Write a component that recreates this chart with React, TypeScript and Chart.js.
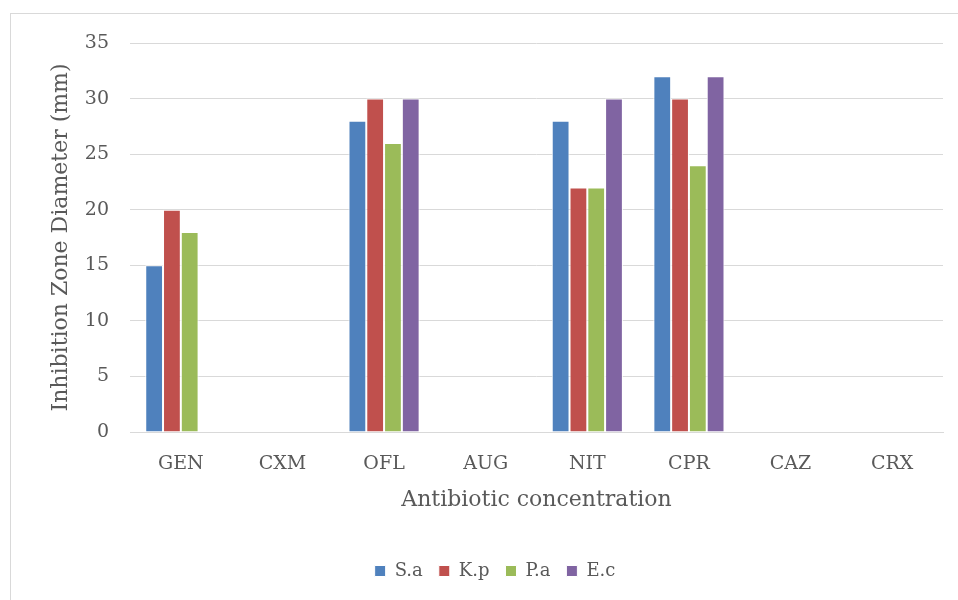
import React, { useEffect, useRef } from "react";
import { Chart, registerables } from "chart.js";

Chart.register(...registerables);

const categories = ["GEN", "CXM", "OFL", "AUG", "NIT", "CPR", "CAZ", "CRX"];
const seriesNames = ["S.a", "K.p", "P.a", "E.c"];
const saValues = [15, 0, 28, 0, 28, 32, 0, 0];
const kpValues = [20, 0, 30, 0, 22, 30, 0, 0];
const paValues = [18, 0, 26, 0, 22, 24, 0, 0];
const ecValues = [0, 0, 30, 0, 30, 32, 0, 0];
const seriesColors = ["#4F81BD", "#C0504D", "#9BBB59", "#8064A2"];
const yTitle = "Inhibition Zone Diameter (mm)";
const xTitle = "Antibiotic concentration";

const FONT = "'DejaVu Serif', serif";
const TEXT = "#595959";
const GRID = "#d9d9d9";

const frame = {
  id: "frame",
  beforeDraw(chart: any) {
    const ctx = chart.ctx;
    ctx.save();
    ctx.fillStyle = "#ffffff";
    ctx.fillRect(0, 0, chart.width, chart.height);
    ctx.strokeStyle = GRID;
    ctx.lineWidth = 1;
    ctx.strokeRect(10.5, 13.5, chart.width + 20, chart.height + 20);
    ctx.restore();
  },
};

export default function App() {
  const ref = useRef<HTMLCanvasElement | null>(null);
  useEffect(() => {
    if (!ref.current) return;
    const allValues = [saValues, kpValues, paValues, ecValues];
    const chart = new Chart(ref.current, {
      type: "bar",
      data: {
        labels: categories,
        datasets: seriesNames.map((name, i) => ({
          label: name,
          data: allValues[i],
          backgroundColor: seriesColors[i],
          borderColor: "#ffffff",
          borderWidth: 1,
          categoryPercentage: 0.7,
          barPercentage: 1.0,
        })),
      },
      options: {
        animation: false,
        responsive: false,
        maintainAspectRatio: false,
        layout: { padding: { left: 47, right: 15, top: 43, bottom: 10 } },
        plugins: {
          legend: {
            position: "bottom",
            labels: {
              boxWidth: 11,
              boxHeight: 11,
              padding: 16,
              color: TEXT,
              font: { family: FONT, size: 18 },
            },
          },
          tooltip: { enabled: false },
        },
        scales: {
          x: {
            grid: { display: false, drawTicks: false },
            border: { display: true, color: GRID, width: 1 },
            ticks: { color: TEXT, font: { family: FONT, size: 19 }, padding: 21 },
            title: {
              display: true,
              text: xTitle,
              color: TEXT,
              font: { family: FONT, size: 22 },
              padding: { top: 0, bottom: 33 },
            },
            afterFit(scale: any) {
              scale.height = 114;
            },
          },
          y: {
            min: 0,
            max: 35,
            ticks: { stepSize: 5, color: TEXT, font: { family: FONT, size: 19 }, padding: 21 },
            grid: { color: GRID, drawTicks: false, lineWidth: 1 },
            border: { display: false },
            title: {
              display: true,
              text: yTitle,
              color: TEXT,
              font: { family: FONT, size: 22 },
              padding: { top: 1, bottom: 0 },
            },
            afterFit(scale: any) {
              scale.width = 83;
            },
          },
        },
      },
      plugins: [frame],
    });
    return () => chart.destroy();
  }, []);
  return (
    <div style={{ position: "absolute", left: 0, top: 0, width: 958, height: 600 }}>
      <canvas ref={ref} width={958} height={600} style={{ display: "block" }} />
    </div>
  );
}
